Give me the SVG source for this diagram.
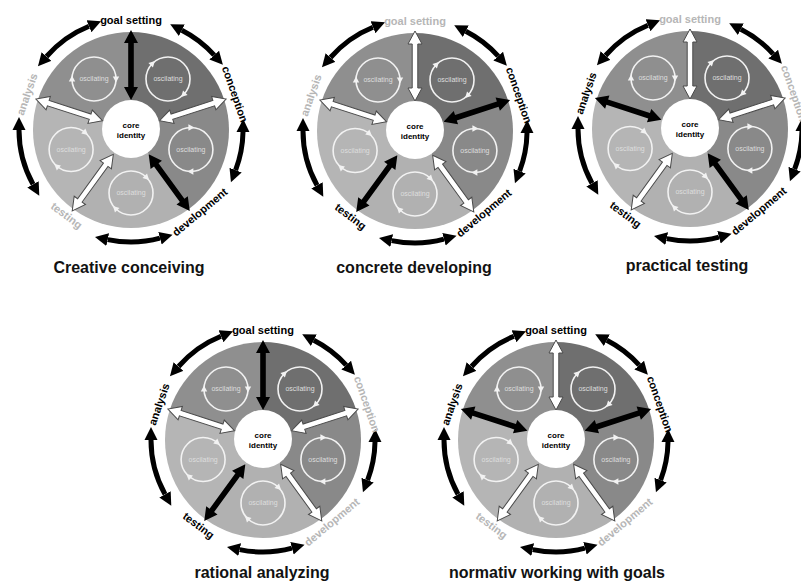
<svg xmlns="http://www.w3.org/2000/svg" xmlns:xlink="http://www.w3.org/1999/xlink" width="801" height="582" viewBox="0 0 801 582">
  <style>
    text { font-family: "Liberation Sans", Arial, sans-serif; text-anchor: middle; }
    .lbl { font-size: 11px; font-weight: bold; }
    .on { fill: #000; }
    .off { fill: #b6b6b6; }
    .core { font-size: 8px; font-weight: bold; fill: #000; }
    .osc { font-size: 7px; fill: #dedede; }
    .cap { font-size: 16px; font-weight: bold; fill: #121212; }
    .ring path { fill: none; stroke: #000; stroke-width: 5; marker-start: url(#ah); marker-end: url(#ah); }
    .loop { fill: none; stroke: #f2f2f2; stroke-width: 1.6; }
    .sb { fill: #000; }
    .sw { fill: #fff; stroke: #4a4a4a; stroke-width: 1; }
  </style>
  <defs>
    <!-- head used at both ends of the outer ring arrows -->
    <marker id="ah" markerUnits="userSpaceOnUse" viewBox="0 0 14 14" markerWidth="14" markerHeight="14" refX="0" refY="7" orient="auto-start-reverse">
      <path d="M0,0.5 L13,7 L0,13.5 Z" fill="#000"/>
    </marker>
    <!-- small head on the oscillating loops -->
    <path id="tri" d="M3.5,0 L-2.5,-3.2 L-2.5,3.2 Z" fill="#f2f2f2"/>
    <!-- double-headed spoke between core and rim, laid along +x -->
    <polygon id="spoke" points="30,0 43,-7 43,-2.8 87,-2.8 87,-7 100,0 87,7 87,2.8 43,2.8 43,7"/>

    <!-- shared wheel body: five sectors, oscillating loops, core -->
    <g id="body">
      <path d="M0,0 L0,-98 A98,98 0 0 1 93.2,-30.3 Z" fill="#6f6f6f"/>
      <path d="M0,0 L93.2,-30.3 A98,98 0 0 1 57.6,79.3 Z" fill="#898989"/>
      <path d="M0,0 L57.6,79.3 A98,98 0 0 1 -57.6,79.3 Z" fill="#b1b1b1"/>
      <path d="M0,0 L-57.6,79.3 A98,98 0 0 1 -93.2,-30.3 Z" fill="#b5b5b5"/>
      <path d="M0,0 L-93.2,-30.3 A98,98 0 0 1 0,-98 Z" fill="#8f8f8f"/>

      <g transform="translate(-37,-51)">
        <circle r="22" class="loop"/>
        <use xlink:href="#tri" transform="rotate(180) translate(22 0) rotate(90)"/>
        <use xlink:href="#tri" transform="rotate(0) translate(22 0) rotate(90)"/>
        <text class="osc" dy=".35em">oscilating</text>
      </g>
      <g transform="translate(37,-51)">
        <circle r="22" class="loop"/>
        <use xlink:href="#tri" transform="rotate(-135) translate(22 0) rotate(90)"/>
        <use xlink:href="#tri" transform="rotate(45) translate(22 0) rotate(90)"/>
        <text class="osc" dy=".35em">oscilating</text>
      </g>
      <g transform="translate(59.9,19.5)">
        <circle r="22" class="loop"/>
        <use xlink:href="#tri" transform="rotate(-90) translate(22 0) rotate(90)"/>
        <use xlink:href="#tri" transform="rotate(90) translate(22 0) rotate(90)"/>
        <text class="osc" dy=".35em">oscilating</text>
      </g>
      <g transform="translate(0,63)">
        <circle r="22" class="loop"/>
        <use xlink:href="#tri" transform="rotate(-45) translate(22 0) rotate(90)"/>
        <use xlink:href="#tri" transform="rotate(135) translate(22 0) rotate(90)"/>
        <text class="osc" dy=".35em">oscilating</text>
      </g>
      <g transform="translate(-59.9,19.5)">
        <circle r="22" class="loop"/>
        <use xlink:href="#tri" transform="rotate(-50) translate(22 0) rotate(90)"/>
        <use xlink:href="#tri" transform="rotate(130) translate(22 0) rotate(90)"/>
        <text class="osc" dy=".35em">oscilating</text>
      </g>

      <circle cx="0" cy="-1" r="29" fill="#fff"/>
      <text class="core" y="-5" dy=".35em">core</text>
      <text class="core" y="5.5" dy=".35em">identity</text>
    </g>

    <!-- outer ring of double arrows between the five phases -->
    <g id="ring" class="ring">
      <path d="M-84.5,-73.5 A112,112 0 0 1 -42.0,-103.8"/>
      <path d="M50.8,-99.8 A112,112 0 0 1 83.2,-74.9"/>
      <path d="M112.0,2.0 A112,112 0 0 1 104.6,40.1"/>
      <path d="M29.0,108.2 A112,112 0 0 1 -23.3,109.6"/>
      <path d="M-98.0,54.3 A112,112 0 0 1 -112,0"/>
    </g>
  </defs>

  <!-- Creative conceiving -->
  <g id="wheel-creative-conceiving" transform="translate(131,130)">
    <use xlink:href="#body"/>
    <g id="links-creative-conceiving">
      <use xlink:href="#ring"/>
      <use xlink:href="#spoke" class="sb" transform="rotate(-90)"/>
      <use xlink:href="#spoke" class="sw" transform="rotate(-18)"/>
      <use xlink:href="#spoke" class="sb" transform="rotate(54)"/>
      <use xlink:href="#spoke" class="sw" transform="rotate(126)"/>
      <use xlink:href="#spoke" class="sw" transform="rotate(198)"/>
    </g>
    <g id="phases-creative-conceiving" class="lbl">
      <text class="on" transform="translate(0,-110)" dy=".35em">goal setting</text>
      <text class="on" transform="translate(104,-35.8) rotate(71)" dy=".35em">conception</text>
      <text class="on" transform="translate(68.8,82) rotate(-40)" dy=".35em">development</text>
      <text class="off" transform="translate(-64.4,85.5) rotate(37)" dy=".35em">testing</text>
      <text class="off" transform="translate(-104,-35.8) rotate(-71)" dy=".35em">analysis</text>
    </g>
    <text class="cap" x="-2" y="143">Creative conceiving</text>
  </g>

  <!-- concrete developing -->
  <g id="wheel-concrete-developing" transform="translate(415,131)">
    <use xlink:href="#body"/>
    <g id="links-concrete-developing">
      <use xlink:href="#ring"/>
      <use xlink:href="#spoke" class="sw" transform="rotate(-90)"/>
      <use xlink:href="#spoke" class="sb" transform="rotate(-18)"/>
      <use xlink:href="#spoke" class="sw" transform="rotate(54)"/>
      <use xlink:href="#spoke" class="sb" transform="rotate(126)"/>
      <use xlink:href="#spoke" class="sw" transform="rotate(198)"/>
    </g>
    <g id="phases-concrete-developing" class="lbl">
      <text class="off" transform="translate(0,-110)" dy=".35em">goal setting</text>
      <text class="on" transform="translate(104,-35.8) rotate(71)" dy=".35em">conception</text>
      <text class="on" transform="translate(68.8,82) rotate(-40)" dy=".35em">development</text>
      <text class="on" transform="translate(-64.4,85.5) rotate(37)" dy=".35em">testing</text>
      <text class="off" transform="translate(-104,-35.8) rotate(-71)" dy=".35em">analysis</text>
    </g>
    <text class="cap" x="-1" y="142">concrete developing</text>
  </g>

  <!-- practical testing -->
  <g id="wheel-practical-testing" transform="translate(690,129)">
    <use xlink:href="#body"/>
    <g id="links-practical-testing">
      <use xlink:href="#ring"/>
      <use xlink:href="#spoke" class="sw" transform="rotate(-90)"/>
      <use xlink:href="#spoke" class="sw" transform="rotate(-18)"/>
      <use xlink:href="#spoke" class="sb" transform="rotate(54)"/>
      <use xlink:href="#spoke" class="sw" transform="rotate(126)"/>
      <use xlink:href="#spoke" class="sb" transform="rotate(198)"/>
    </g>
    <g id="phases-practical-testing" class="lbl">
      <text class="off" transform="translate(0,-110)" dy=".35em">goal setting</text>
      <text class="off" transform="translate(104,-35.8) rotate(71)" dy=".35em">conception</text>
      <text class="on" transform="translate(68.8,82) rotate(-40)" dy=".35em">development</text>
      <text class="on" transform="translate(-64.4,85.5) rotate(37)" dy=".35em">testing</text>
      <text class="on" transform="translate(-104,-35.8) rotate(-71)" dy=".35em">analysis</text>
    </g>
    <text class="cap" x="-3" y="142">practical testing</text>
  </g>

  <!-- rational analyzing -->
  <g id="wheel-rational-analyzing" transform="translate(263,440)">
    <use xlink:href="#body"/>
    <g id="links-rational-analyzing">
      <use xlink:href="#ring"/>
      <use xlink:href="#spoke" class="sb" transform="rotate(-90)"/>
      <use xlink:href="#spoke" class="sw" transform="rotate(-18)"/>
      <use xlink:href="#spoke" class="sw" transform="rotate(54)"/>
      <use xlink:href="#spoke" class="sb" transform="rotate(126)"/>
      <use xlink:href="#spoke" class="sw" transform="rotate(198)"/>
    </g>
    <g id="phases-rational-analyzing" class="lbl">
      <text class="on" transform="translate(0,-110)" dy=".35em">goal setting</text>
      <text class="off" transform="translate(104,-35.8) rotate(71)" dy=".35em">conception</text>
      <text class="off" transform="translate(68.8,82) rotate(-40)" dy=".35em">development</text>
      <text class="on" transform="translate(-64.4,85.5) rotate(37)" dy=".35em">testing</text>
      <text class="on" transform="translate(-104,-35.8) rotate(-71)" dy=".35em">analysis</text>
    </g>
    <text class="cap" x="-1" y="138">rational analyzing</text>
  </g>

  <!-- normativ working with goals -->
  <g id="wheel-normativ-working" transform="translate(556,440)">
    <use xlink:href="#body"/>
    <g id="links-normativ-working">
      <use xlink:href="#ring"/>
      <use xlink:href="#spoke" class="sw" transform="rotate(-90)"/>
      <use xlink:href="#spoke" class="sb" transform="rotate(-18)"/>
      <use xlink:href="#spoke" class="sw" transform="rotate(54)"/>
      <use xlink:href="#spoke" class="sw" transform="rotate(126)"/>
      <use xlink:href="#spoke" class="sb" transform="rotate(198)"/>
    </g>
    <g id="phases-normativ-working" class="lbl">
      <text class="on" transform="translate(0,-110)" dy=".35em">goal setting</text>
      <text class="on" transform="translate(104,-35.8) rotate(71)" dy=".35em">conception</text>
      <text class="off" transform="translate(68.8,82) rotate(-40)" dy=".35em">development</text>
      <text class="off" transform="translate(-64.4,85.5) rotate(37)" dy=".35em">testing</text>
      <text class="on" transform="translate(-104,-35.8) rotate(-71)" dy=".35em">analysis</text>
    </g>
    <text class="cap" x="1" y="138">normativ working with goals</text>
  </g>
</svg>
